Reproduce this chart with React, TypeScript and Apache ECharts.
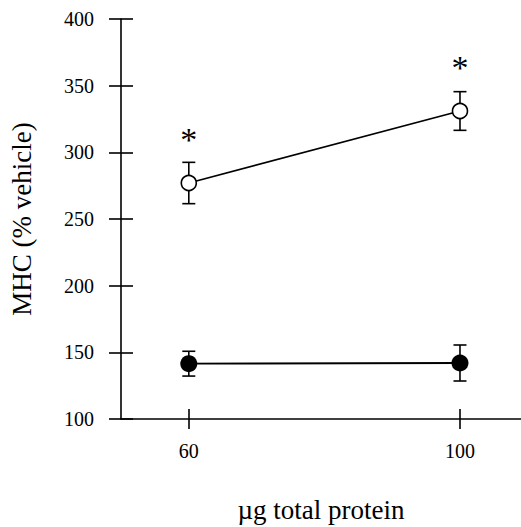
import React, { useEffect, useRef } from "react";
import * as echarts from "echarts";

const doses = [60, 100];
const openMean = [277, 331];
const openErr = [15.5, 14.5];
const filledMean = [141.5, 142];
const filledErr = [9.3, 13.5];
const starY = [310, 364];
const xTicks = [60, 100];
const yTicks = [100, 150, 200, 250, 300, 350, 400];

const FONT = "Liberation Serif";

export default function App() {
  const ref = useRef<HTMLDivElement>(null);
  useEffect(() => {
    const chart = echarts.init(ref.current!, null, { renderer: "svg" });
    const errData = [
      ...doses.map((d, i) => [d, openMean[i] - openErr[i], openMean[i] + openErr[i]]),
      ...doses.map((d, i) => [d, filledMean[i] - filledErr[i], filledMean[i] + filledErr[i]]),
    ];
    const errRender = (params: any, api: any) => {
      const x = api.value(0);
      const lo = api.coord([x, api.value(1)]);
      const hi = api.coord([x, api.value(2)]);
      const w = 6.5;
      const st = { stroke: "#000", lineWidth: 1.6 };
      return {
        type: "group",
        children: [
          { type: "line", shape: { x1: lo[0], y1: lo[1], x2: hi[0], y2: hi[1] }, style: st },
          { type: "line", shape: { x1: lo[0] - w, y1: lo[1], x2: lo[0] + w, y2: lo[1] }, style: st },
          { type: "line", shape: { x1: hi[0] - w, y1: hi[1], x2: hi[0] + w, y2: hi[1] }, style: st },
        ],
      };
    };
    const starRender = (params: any, api: any) => {
      const p = api.coord([api.value(0), api.value(1)]);
      return {
        type: "text",
        x: p[0],
        y: p[1],
        style: {
          text: "*",
          fontFamily: FONT,
          fontSize: 34,
          fill: "#000",
          textAlign: "center",
          textVerticalAlign: "middle",
        },
      };
    };
    const axisCommon = {
      type: "value" as const,
      splitLine: { show: false },
    };
    chart.setOption({
      animation: false,
      backgroundColor: "#fff",
      grid: { left: 121, right: 0, top: 19, bottom: 108, outerBoundsMode: "none" },
      xAxis: [
        {
          ...axisCommon,
          min: 50,
          max: 109,
          axisLine: { show: true, lineStyle: { color: "#000", width: 1.6 } },
          axisTick: { show: true, length: 10, customValues: xTicks, lineStyle: { color: "#000", width: 1.6 } },
          axisLabel: { customValues: xTicks, margin: 22, fontFamily: FONT, fontSize: 20, color: "#000" },
          name: "µg total protein",
          nameLocation: "middle",
          nameGap: 77,
          nameTextStyle: { fontFamily: FONT, fontSize: 27, color: "#000" },
        },
        {
          ...axisCommon,
          min: 50,
          max: 109,
          position: "bottom",
          offset: 0,
          axisLine: { show: false },
          axisTick: { show: true, inside: true, length: 10, customValues: xTicks, lineStyle: { color: "#000", width: 1.6 } },
          axisLabel: { show: false },
        },
      ],
      yAxis: [
        {
          ...axisCommon,
          min: 100,
          max: 400,
          interval: 50,
          axisLine: { show: true, lineStyle: { color: "#000", width: 1.6 } },
          axisTick: { show: true, length: 12, lineStyle: { color: "#000", width: 1.6 } },
          axisLabel: { margin: 27, fontFamily: FONT, fontSize: 20, color: "#000" },
          name: "MHC (% vehicle)",
          nameLocation: "middle",
          nameGap: 86,
          nameTextStyle: { fontFamily: FONT, fontSize: 27, color: "#000" },
        },
        {
          ...axisCommon,
          min: 100,
          max: 400,
          interval: 50,
          position: "left",
          offset: 0,
          axisLine: { show: false },
          axisTick: { show: true, inside: true, length: 12, lineStyle: { color: "#000", width: 1.6 } },
          axisLabel: { show: false },
        },
      ],
      series: [
        {
          type: "custom",
          renderItem: errRender,
          data: errData,
          z: 1,
          silent: true,
        },
        {
          type: "line",
          data: doses.map((d, i) => [d, openMean[i]]),
          symbol: "circle",
          symbolSize: 15,
          lineStyle: { color: "#000", width: 1.8 },
          itemStyle: { color: "#fff", borderColor: "#000", borderWidth: 1.6 },
          z: 3,
        },
        {
          type: "line",
          data: doses.map((d, i) => [d, filledMean[i]]),
          symbol: "circle",
          symbolSize: 17,
          lineStyle: { color: "#000", width: 1.8 },
          itemStyle: { color: "#000", borderColor: "#000", borderWidth: 0 },
          z: 3,
        },
        {
          type: "custom",
          renderItem: starRender,
          data: doses.map((d, i) => [d, starY[i]]),
          z: 4,
          silent: true,
        },
      ],
    });
    return () => chart.dispose();
  }, []);
  return (
    <div
      ref={ref}
      style={{ position: "fixed", left: 0, top: 0, width: 521, height: 527, background: "#fff" }}
    />
  );
}
